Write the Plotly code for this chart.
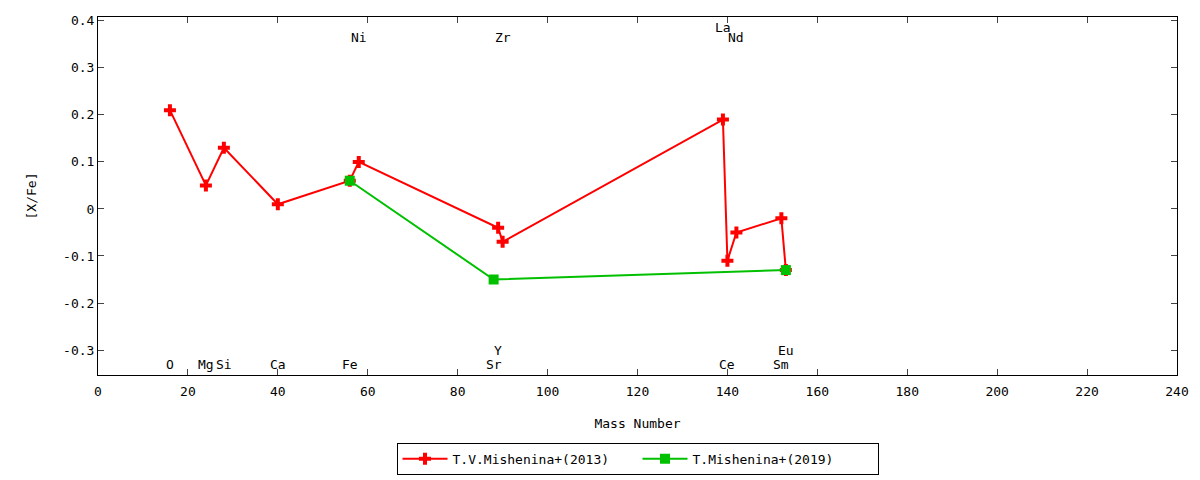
import plotly.graph_objects as go

# [X/Fe] vs mass number
mass_2013 = [16, 24, 28, 40, 56, 58, 89, 90, 139, 140, 142, 152, 153]
xfe_2013 = [0.21, 0.05, 0.13, 0.01, 0.06, 0.10, -0.04, -0.07, 0.19, -0.11, -0.05, -0.02, -0.13]

mass_2019 = [56, 88, 153]
xfe_2019 = [0.06, -0.15, -0.13]

# element labels: name, mass, label height
elem_names = ["O", "Mg", "Si", "Ca", "Fe", "Ni", "Sr", "Y", "Zr", "La", "Ce", "Nd", "Sm", "Eu"]
elem_mass = [16, 24, 28, 40, 56, 58, 88, 89, 90, 139, 140, 142, 152, 153]
elem_y = [-0.33, -0.33, -0.33, -0.33, -0.33, 0.365, -0.33, -0.30, 0.365, 0.385, -0.33, 0.365, -0.33, -0.30]

x_ticks = list(range(0, 241, 20))
y_ticks = [0.4, 0.3, 0.2, 0.1, 0, -0.1, -0.2, -0.3]
y_ticktext = ["0.4", "0.3", "0.2", "0.1", "0", "-0.1", "-0.2", "-0.3"]

font = dict(family="DejaVu Sans Mono", size=13, color="black")

fig = go.Figure()
fig.add_trace(go.Scatter(
    x=mass_2013, y=xfe_2013, mode="lines+markers", name="T.V.Mishenina+(2013)",
    line=dict(color="#ff0000", width=2),
    marker=dict(symbol="cross", size=10, color="#ff0000"),
))
fig.add_trace(go.Scatter(
    x=mass_2019, y=xfe_2019, mode="lines+markers", name="T.Mishenina+(2019)",
    line=dict(color="#00c000", width=2),
    marker=dict(symbol="square", size=10, color="#00c000"),
))

for name, m, yy in zip(elem_names, elem_mass, elem_y):
    fig.add_annotation(x=m, y=yy, text=name, showarrow=False, xref="x", yref="y",
                       font=font)

fig.update_xaxes(
    range=[0, 240], tickvals=x_ticks, ticks="inside", ticklen=6, mirror="ticks",
    showline=True, linecolor="black", linewidth=1, showgrid=False, zeroline=False,
    ticklabelstandoff=4,
    title=dict(text="Mass Number", font=font, standoff=21), tickfont=font,
)
fig.update_yaxes(
    range=[-0.353, 0.408], tickvals=y_ticks, ticktext=y_ticktext, ticks="inside",
    ticklen=6, mirror="ticks", showline=True, linecolor="black", linewidth=1,
    showgrid=False, zeroline=False, title=dict(text="[X/Fe]", font=font, standoff=23),
    tickfont=font,
)

# page body has an 8px margin, so size and margins are shifted by it
fig.update_layout(
    width=1192, height=472,
    margin=dict(l=90, r=23, t=9, b=105, autoexpand=False),
    plot_bgcolor="white", paper_bgcolor="white",
    font=font,
    legend=dict(orientation="h", x=0.5, xanchor="center",
                yref="container", y=0.045, yanchor="middle",
                bordercolor="black", borderwidth=1, font=font,
                entrywidth=180, itemwidth=45),
)

fig.write_html("out.html")
